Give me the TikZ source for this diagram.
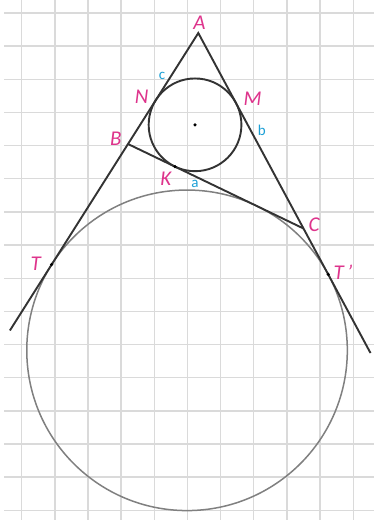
\documentclass[tikz,border=0pt]{standalone}
\usepackage{fontspec}
\setsansfont{Carlito}
\usetikzlibrary{calc}
\definecolor{labpink}{RGB}{222,52,140}
\definecolor{labcyan}{RGB}{28,160,214}
\definecolor{gridgray}{RGB}{218,218,218}

\begin{document}
\begin{tikzpicture}[
  x=1pt, y=-1pt,
  grd/.style={draw=gridgray, line width=1.4pt},
  side/.style={draw=black!80, line width=1.9pt},
  exc/.style={draw=black!50, line width=1.5pt},
  lab/.style={text=labpink, font=\sffamily\itshape\fontsize{21}{21}\selectfont, inner sep=0pt},
  sm/.style={text=labcyan, font=\sffamily\fontsize{15}{15}\selectfont, inner sep=0pt},
  dotp/.style={circle, fill=black, inner sep=0pt, minimum size=3.5pt}
]
\useasboundingbox[fill=white] (0,0) rectangle (374,520);
% squared paper
\foreach \i in {0,...,10} \draw[grd] ({21.7+33.15*\i},0) -- ({21.7+33.15*\i},520);
\foreach \j in {0,...,15} \draw[grd] (4,{13+33.15*\j}) -- (374,{13+33.15*\j});

% triangle and the two circles
\coordinate (A) at (198.3,33);
\coordinate (B) at (128,144);
\coordinate (C) at (303.5,228.5);
\coordinate (I) at (195.04,124.81);
\coordinate (Ia) at (187.05,350.31);
\coordinate (N) at ($(A)!79.31pt!(B)$);
\coordinate (M) at ($(A)!79.31pt!(C)$);
\coordinate (K) at ($(B)!52.08pt!(C)$);
\coordinate (T) at ($(A)!274.09pt!(B)$);
\coordinate (Tp) at ($(A)!274.09pt!(C)$);
\coordinate (endl) at ($(A)!2.68!(B)$);
\coordinate (endr) at ($(A)!1.637!(C)$);

\draw[exc] (Ia) circle[radius=160.27pt];
\draw[side] (endl) -- (A) -- (endr);
\draw[side] (B) -- (C);
\draw[side] (I) circle[radius=46.37pt];

\node[dotp] (dI) at (I) {};
\node[dotp] (dK) at (K) {};
\node[dotp] (dT) at (T) {};
\node[dotp] (dTp) at (Tp) {};

% labels
\node[lab] (lA) at (199.5,23) {A};
\node[lab] (lB) at (115.8,138.3) {B};
\node[lab] (lC) at (314,225) {C};
\node[lab] (lN) at (141.7,96.5) {N};
\node[lab] (lM) at (252.5,98.3) {M};
\node[lab] (lK) at (165.8,178.3) {K};
\node[lab] (lT) at (35.8,263.3) {T};
\node[lab] (lTp) at (343,272.5) {T\,'};
\node[sm] (sc) at (162,76) {c};
\node[sm] (sb) at (261.7,130.8) {b};
\node[sm] (sa) at (195,184) {a};
\end{tikzpicture}
\end{document}
